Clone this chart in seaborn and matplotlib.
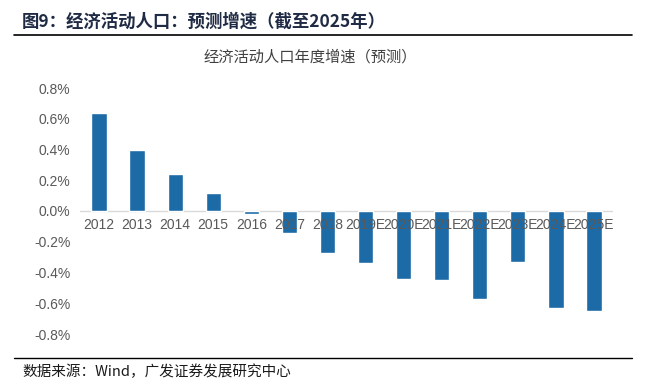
import matplotlib
matplotlib.use("Agg")
import matplotlib.pyplot as plt
import seaborn as sns
import pandas as pd
from matplotlib.ticker import FuncFormatter
from matplotlib.lines import Line2D

years = ["2012", "2013", "2014", "2015", "2016", "2017", "2018",
         "2019E", "2020E", "2021E", "2022E", "2023E", "2024E", "2025E"]
growth = [0.64, 0.40, 0.24, 0.12, -0.02, -0.14, -0.27,
          -0.34, -0.44, -0.45, -0.57, -0.33, -0.63, -0.65]
yticks = [-0.8, -0.6, -0.4, -0.2, 0.0, 0.2, 0.4, 0.6, 0.8]

fig_title = "图9：经济活动人口：预测增速（截至2025年）"
chart_title = "经济活动人口年度增速（预测）"
source = "数据来源：Wind，广发证券发展研究中心"

sns.set_theme(style="white")
plt.rcParams['font.family'] = ['Liberation Sans', 'Noto Sans CJK SC', 'DejaVu Sans']

df = pd.DataFrame({"year": years, "growth": growth})

fig = plt.figure(figsize=(6.48, 3.90), dpi=100)
ax = fig.add_axes([80/648, 1-334/390, (613-80)/648, (334-88)/390])

sns.barplot(data=df, x="year", y="growth", color="#1C6AA6", saturation=1,
            width=0.4, ax=ax)

ax.set_xlim(-0.5, len(years)-0.5)
ax.set_ylim(-0.8, 0.8)
ax.set_yticks(yticks)
ax.yaxis.set_major_formatter(FuncFormatter(lambda v, p: f"{v:.1f}%"))
ax.set_xlabel("")
ax.set_ylabel("")
for s in ax.spines.values():
    s.set_visible(False)
ax.axhline(0, color="#D9D9D9", lw=1, zorder=0.5)
ax.tick_params(axis="y", length=0, labelsize=10, labelcolor="#595959", pad=7)
ax.set_xticks(range(len(years)))
ax.set_xticklabels([])
ax.tick_params(axis="x", length=0)
for i, y in enumerate(years):
    ax.text(i, -0.045, y, ha="center", va="top",
            fontsize=10, color="#595959", zorder=5, clip_on=False)

fig.text(22/648, 1-22/390, fig_title, fontsize=12.5, fontweight="bold",
         color="#1F2A44", ha="left", va="center",
         family=['Noto Sans CJK SC', 'DejaVu Sans'])
fig.add_artist(Line2D([14/648, 632/648], [1-35/390, 1-35/390], color="black", lw=1.2,
                      transform=fig.transFigure))
fig.text(310/648, 1-57/390, chart_title, fontsize=11, color="#404040",
         ha="center", va="center", family=['Noto Sans CJK SC', 'DejaVu Sans'])
fig.add_artist(Line2D([14/648, 632/648], [1-358/390, 1-358/390], color="black", lw=1,
                      transform=fig.transFigure))
fig.text(22/648, 1-372/390, source, fontsize=10.5, color="#1a1a1a",
         ha="left", va="center", family=['Noto Sans CJK SC', 'DejaVu Sans'])

fig.savefig("out.png", dpi=100)
